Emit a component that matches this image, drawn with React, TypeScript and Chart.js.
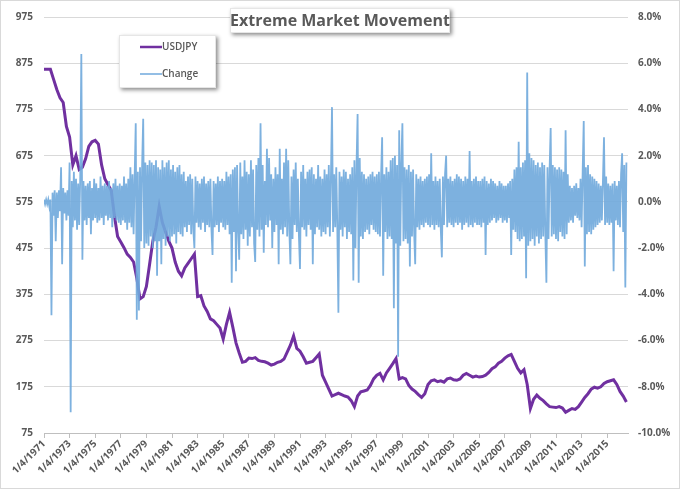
import React, { useEffect, useRef } from 'react';
import { Chart, registerables } from 'chart.js';

Chart.register(...registerables);

const START_YEAR = 1971;
const TITLE = 'Extreme Market Movement';
const xTickYears = [1971, 1973, 1975, 1977, 1979, 1981, 1983, 1985, 1987, 1989, 1991, 1993, 1995, 1997, 1999, 2001, 2003, 2005, 2007, 2009, 2011, 2013, 2015];
const leftTicks = [75, 175, 275, 375, 475, 575, 675, 775, 875, 975];
const rightTicks = [-10, -8, -6, -4, -2, 0, 2, 4, 6, 8];

// USDJPY (left axis), quarterly readings from Jan 1971
const usdjpyQuarterly = [
  862, 862, 862, 840, 818, 800, 790, 738, 715, 655, 675, 645,
  650, 668, 695, 705, 708, 700, 655, 625, 612, 600, 545, 500,
  488, 476, 462, 455, 445, 410, 365, 370, 392, 440, 490, 520,
  565, 530, 510, 490, 475, 445, 425, 415, 432, 442, 452, 462,
  370, 372, 350, 338, 322, 318, 310, 302, 278, 310, 336, 304,
  270, 248, 228, 230, 237, 236, 238, 232, 230, 229, 226, 222,
  224, 228, 230, 235, 250, 265, 285, 258, 252, 240, 226, 228,
  230, 238, 246, 200, 185, 170, 155, 158, 161, 158, 155, 153,
  145, 132, 155, 164, 166, 168, 178, 192, 200, 204, 190, 205,
  215, 225, 236, 192, 195, 192, 178, 170, 165, 158, 152, 160,
  180, 188, 190, 186, 188, 185, 192, 194, 190, 189, 192, 200,
  204, 200, 196, 198, 196, 197, 200, 206, 214, 218, 226, 230,
  237, 242, 245, 230, 215, 205, 212, 180, 128, 148, 157, 150,
  145, 138, 132, 131, 130, 132, 129, 120, 124, 128, 126, 132,
  142, 152, 160, 170, 174, 172, 175, 182, 186, 188, 190, 180,
  165, 155, 142,
];

// Change (right axis, %), monthly readings
const change1970s = [
  0.1, -0.1, 0.1, -0.1, 0.1, -0.2, 0.1, -4.9, 0.4, -0.6, 0.5, -1.7,
  0.4, -0.7, 0.5, -0.4, 1.5, -2.7, 0.6, -0.5, 0.4, -0.8, 0.5, -0.6,
  1.7, -9.1, 0.9, -1.1, 1.3, -0.8, 1.0, -1.2, 0.8, -1.0, 1.1, 6.4,
  -2.5, 0.9, -0.8, 0.7, -1.0, 0.8, -0.7, 0.9, -1.4, 0.6, -0.8, 1.0,
  -0.7, 0.8, -0.9, 0.6, -0.8, 1.1, -0.7, 0.7, -1.0, 0.8, -0.6, 0.7,
  -0.8, 0.9, -0.7, 0.6, -1.1, 0.8, -0.7, 1.0, -0.8, 0.7, -0.9, 0.8,
  -1.0, 0.7, -0.8, 1.1, -0.9, 0.8, -1.2, 1.0, -0.9, 1.5, -1.1, 1.2,
  -1.4, 1.1, 3.4, -5.1, 1.3, -4.7, 1.5, -1.7, 1.6, 3.6, -2.0, 1.7,
  -1.8, 1.6, -1.9, 1.8, -1.5, 1.7, -2.0, 1.6, -1.7, 1.8, -3.2, 1.5,
];
const change1980s = [
  -1.7, 1.4, -2.7, 1.8, -1.6, 1.5, -1.9, 1.7, -1.5, 1.8, -1.7, 1.4,
  -1.5, 1.6, -1.4, 1.3, -1.8, 1.5, -1.3, 1.6, -1.4, 1.2, -1.5, 1.3,
  -1.1, 0.9, -1.3, 1.1, -1.0, 1.2, -1.4, 1.0, -1.2, -2.0, 1.1, -0.9,
  0.9, -1.1, 0.8, -1.2, 1.0, -0.9, 1.1, -1.3, 0.8, -1.0, 0.9, -1.1,
  1.0, -1.2, -2.3, 0.9, -1.1, 0.8, -1.0, 1.1, -1.3, 0.9, -0.9, 1.0,
  -1.1, 0.9, -1.2, 1.3, -1.0, 1.1, -1.4, 1.2, -3.5, 1.4, -1.3, 1.5,
  -3.0, 1.6, -1.2, -2.5, 1.7, -1.4, 1.1, -1.6, 1.8, -1.2, 1.3, -1.9,
  1.2, -1.5, 1.8, -1.1, 1.4, -1.8, -2.6, 1.6, -1.2, 1.9, -1.5, 3.4,
  -1.2, 1.6, -2.2, 0.9, -1.0, 2.3, -1.1, 1.9, -0.8, 1.2, -2.0, 1.0,
  -1.3, 1.5, -1.0, 1.2, -2.7, 2.3, -1.2, 1.0, -1.4, 1.7, -1.1, 2.3,
];
const change1990s = [
  -1.5, 1.8, -1.2, -2.7, 1.1, -1.6, 1.4, -1.0, 1.7, -1.3, 1.0, -1.5,
  -2.9, 1.3, -1.1, 1.6, -1.2, 1.0, -1.5, 1.3, -1.0, 1.4, -1.2, 1.5,
  -2.7, 1.2, -1.4, 1.0, -1.1, 1.6, -1.2, 1.1, -1.5, 1.0, -1.3, 1.4,
  -1.4, 1.2, -1.1, 1.6, -1.5, 1.1, 4.1, -1.3, 1.2, -1.1, 1.5, -1.2,
  -4.8, 1.3, -1.2, 1.1, -1.5, 1.4, -1.1, 1.3, -1.6, 1.0, -1.3, 1.2,
  -1.4, 1.5, -3.4, 1.8, -2.0, 1.6, 3.8, -3.5, 1.9, -1.5, 1.3, -1.6,
  1.2, -1.3, 1.0, -1.2, 1.1, -1.4, 1.2, -1.0, 1.3, -1.2, 1.1, -1.3,
  1.2, -1.4, 1.3, -1.5, 1.1, 2.8, -3.2, 1.2, -1.3, 1.5, -1.6, 1.3,
  -1.5, 1.8, -1.6, 1.9, -4.6, 2.0, -1.8, 1.6, -6.7, 3.1, -1.9, 1.7,
  3.4, -1.7, 1.5, -1.6, 1.4, -1.8, 1.6, -2.8, 1.3, -1.5, 1.4, -1.3,
];
const change2000s = [
  -2.7, 1.2, -1.1, 1.0, -1.2, 1.1, -1.0, 0.9, -1.1, 1.0, -0.9, 1.1,
  -1.0, 1.2, -1.1, 2.1, -1.0, 0.9, -1.2, 1.1, -1.0, 0.9, -1.1, 1.0,
  -1.2, -2.4, 1.1, -1.0, 1.2, 2.0, -1.1, 1.0, -0.9, 1.1, -1.0, 0.9,
  -1.1, 1.0, -0.9, 1.2, -1.0, 1.1, -0.9, 1.0, -1.2, 0.9, -1.0, 1.1,
  -0.9, 1.0, -1.1, 2.2, -1.0, 0.9, -1.1, 1.0, -0.9, 1.1, -1.0, 0.9,
  -1.0, 0.9, -1.1, 1.0, -0.9, 1.1, -2.3, 0.9, -1.0, 0.8, -0.9, 1.0,
  -0.8, 0.9, -0.7, 0.8, -0.9, 0.7, -0.8, 0.9, -0.7, 0.8, -0.9, 0.7,
  -0.8, 0.7, -0.9, 0.8, -0.7, 0.9, -2.3, 1.0, -1.2, 1.4, -1.3, 1.5,
  -1.6, 2.6, -1.7, 1.5, -1.6, 1.7, -1.5, 1.8, -3.3, 5.6, -1.9, 2.1,
  -1.7, 1.9, -1.6, 1.8, -1.9, 1.6, -1.5, 1.7, -1.8, 1.5, -1.6, 1.7,
];
const change2010s = [
  -1.5, 1.6, -1.4, -3.5, 1.5, -1.6, 1.4, 3.2, -1.5, 1.6, -1.4, 1.5,
  -1.6, 1.4, -1.7, 1.5, -1.3, 1.4, -1.5, 1.3, -1.6, 3.1, -1.4, 1.2,
  -0.9, 0.7, -0.8, 0.6, -0.9, 0.7, -0.6, 0.8, -0.7, 0.6, -0.8, 1.0,
  -1.1, 1.3, 3.5, -2.8, 1.5, -1.4, 1.6, -1.3, 1.2, -1.4, 1.1, -1.2,
  1.0, -1.1, 0.9, -1.0, 0.8, -0.9, 0.7, -0.8, 0.9, 2.8, -1.0, 1.1,
  -0.9, 0.8, -1.0, 0.7, -0.9, 0.8, -3.0, 0.9, -0.8, 0.7, -1.0, 0.9,
  -1.1, 1.2, 2.1, -1.3, 1.6, -3.7, 1.7,
];

const TEXT = '#595959';
const FONT = "'Open Sans', sans-serif";
const BLUE = 'rgba(111,168,220,0.9)';
const PURPLE = '#7030A0';

const boxesPlugin = {
  id: 'boxes',
  afterDraw(chart: any) {
    const ctx = chart.ctx;
    ctx.save();
    ctx.strokeStyle = '#d9d9d9';
    ctx.lineWidth = 1;
    ctx.strokeRect(0.5, 0.5, chart.width - 1, chart.height - 1);

    const shadowBox = (x: number, y: number, w: number, h: number) => {
      ctx.save();
      ctx.shadowColor = 'rgba(0,0,0,0.45)';
      ctx.shadowBlur = 4;
      ctx.shadowOffsetX = 2;
      ctx.shadowOffsetY = 2;
      ctx.fillStyle = '#ffffff';
      ctx.fillRect(x, y, w, h);
      ctx.restore();
      ctx.strokeStyle = '#e6e6e6';
      ctx.lineWidth = 1;
      ctx.strokeRect(x + 0.5, y + 0.5, w - 1, h - 1);
    };

    // title
    shadowBox(230, 8, 220, 25);
    ctx.fillStyle = TEXT;
    ctx.font = `bold 16px ${FONT}`;
    ctx.textAlign = 'center';
    ctx.textBaseline = 'middle';
    ctx.fillText(TITLE, 340, 21);

    // legend
    shadowBox(119, 35, 97, 53);
    const items = [
      { label: chart.data.datasets[1].label, color: PURPLE, w: 2.5, y: 47 },
      { label: chart.data.datasets[0].label, color: '#6fa8dc', w: 1.5, y: 74 },
    ];
    ctx.font = `600 10px ${FONT}`;
    ctx.textAlign = 'left';
    for (const it of items) {
      ctx.strokeStyle = it.color;
      ctx.lineWidth = it.w;
      ctx.beginPath();
      ctx.moveTo(140, it.y);
      ctx.lineTo(162, it.y);
      ctx.stroke();
      ctx.fillStyle = TEXT;
      ctx.fillText(it.label, 162, it.y);
    }
    ctx.restore();
  },
};

export default function App() {
  const ref = useRef<HTMLCanvasElement | null>(null);

  useEffect(() => {
    document.body.style.margin = '0';
    const changeAll = [...change1970s, ...change1980s, ...change1990s, ...change2000s, ...change2010s];
    const changePts = changeAll.map((v, i) => ({ x: START_YEAR + i / 12, y: v }));
    const usdPts = usdjpyQuarterly.map((v, i) => ({ x: START_YEAR + i / 4, y: v }));
    const tickFont = { family: FONT, size: 10, weight: 'bold' };

    const chart = new Chart(ref.current as HTMLCanvasElement, {
      type: 'line',
      data: {
        datasets: [
          {
            label: 'Change',
            data: changePts,
            yAxisID: 'yR',
            borderColor: BLUE,
            borderWidth: 1.8,
            pointRadius: 0,
            tension: 0,
            order: 0,
          },
          {
            label: 'USDJPY',
            data: usdPts,
            yAxisID: 'yL',
            borderColor: PURPLE,
            borderWidth: 3,
            pointRadius: 0,
            tension: 0,
            order: 1,
          },
        ],
      },
      options: {
        responsive: false,
        animation: false,
        devicePixelRatio: 1,
        layout: { padding: { top: 16, left: 0, right: 0, bottom: 0 } },
        plugins: { legend: { display: false }, tooltip: { enabled: false }, title: { display: false } },
        scales: {
          x: {
            type: 'linear',
            min: 1971,
            max: 2016.625,
            afterBuildTicks: (s: any) => { s.ticks = xTickYears.map((v) => ({ value: v })); },
            afterFit: (s: any) => { s.height = 56; },
            grid: { drawOnChartArea: false, drawTicks: true, tickLength: 5, color: '#bfbfbf' },
            border: { display: true, color: '#bfbfbf' },
            ticks: {
              autoSkip: false,
              minRotation: 45,
              maxRotation: 45,
              padding: 0,
              color: TEXT,
              font: tickFont,
              callback: (v: any) => `1/4/${v}`,
            },
          },
          yL: {
            type: 'linear',
            position: 'left',
            min: 75,
            max: 975,
            afterBuildTicks: (s: any) => { s.ticks = leftTicks.map((v) => ({ value: v })); },
            afterFit: (s: any) => { s.width = 44; },
            grid: { color: '#d9d9d9', drawTicks: false },
            border: { display: false },
            ticks: { padding: 11, color: TEXT, font: tickFont },
          },
          yR: {
            type: 'linear',
            position: 'right',
            min: -10,
            max: 8,
            afterBuildTicks: (s: any) => { s.ticks = rightTicks.map((v) => ({ value: v })); },
            afterFit: (s: any) => { s.width = 52; },
            grid: { drawOnChartArea: false, drawTicks: false },
            border: { display: false },
            ticks: {
              padding: 10,
              color: TEXT,
              font: tickFont,
              callback: (v: any) => `${Number(v).toFixed(1)}%`,
            },
          },
        },
      },
      plugins: [boxesPlugin],
    } as any);
    return () => chart.destroy();
  }, []);

  return (
    <div style={{ width: 680, height: 489 }}>
      <canvas ref={ref} width={680} height={489} style={{ display: 'block' }} />
    </div>
  );
}
